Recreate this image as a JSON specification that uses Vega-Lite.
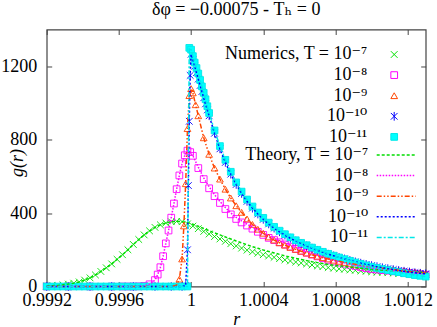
{
"$schema":"https://vega.github.io/schema/vega-lite/v6.json",
"width":379,"height":257,"autosize":"none",
"padding":{"left":46.7,"top":29.5,"right":11.3,"bottom":40.3},
"background":"white",
"title":{"text":"δφ = −0.00075 - Tₕ = 0","font":"Liberation Serif, DejaVu Serif, serif","fontSize":18,"fontWeight":"normal","color":"black","offset":10,"anchor":"middle"},
"config":{"font":"Liberation Serif, DejaVu Serif, serif","view":{"stroke":"#444444","strokeWidth":1.2},
"style":{"guide-label":{"font":"Liberation Serif, DejaVu Serif, serif"},"guide-title":{"font":"Liberation Serif, DejaVu Serif, serif"},"group-title":{"font":"Liberation Serif, DejaVu Serif, serif"}},
"axis":{"labelFont":"Liberation Serif, DejaVu Serif, serif","labelFontSize":18,"labelColor":"black","tickColor":"#444444","tickWidth":1,"titleFont":"Liberation Serif, DejaVu Serif, serif","titleFontSize":18,"titleFontStyle":"italic","titleFontWeight":"normal","titleColor":"black","labelFlush":false,"labelOverlap":false,"grid":false,"domain":false},
"legend":{"labelFont":"Liberation Serif, DejaVu Serif, serif","labelFontSize":18,"labelColor":"black","labelAlign":"right","padding":0,"symbolOffset":0,"rowPadding":2.6}},
"data":{"values":[
{"r":0.9992,"s":"7","t":3,"n":3},{"r":0.99923,"s":"7","t":4,"n":4},{"r":0.99926,"s":"7","t":6,"n":6},{"r":0.99929,"s":"7","t":9,"n":9},{"r":0.99932,"s":"7","t":13,"n":13},{"r":0.99935,"s":"7","t":18,"n":18},{"r":0.99938,"s":"7","t":25,"n":25},{"r":0.99941,"s":"7","t":35,"n":35},{"r":0.99944,"s":"7","t":47,"n":47},{"r":0.99947,"s":"7","t":63,"n":63},{"r":0.9995,"s":"7","t":82,"n":82},{"r":0.99953,"s":"7","t":102,"n":102},{"r":0.99956,"s":"7","t":123,"n":123},{"r":0.99959,"s":"7","t":148,"n":148},{"r":0.99962,"s":"7","t":173,"n":173},{"r":0.99965,"s":"7","t":200,"n":200},{"r":0.99968,"s":"7","t":229,"n":229},{"r":0.99971,"s":"7","t":256,"n":256},{"r":0.99974,"s":"7","t":281,"n":281},{"r":0.99977,"s":"7","t":303,"n":303},{"r":0.9998,"s":"7","t":322,"n":322},{"r":0.99983,"s":"7","t":336,"n":336},{"r":0.99986,"s":"7","t":346,"n":346},{"r":0.99989,"s":"7","t":353,"n":353},{"r":0.99992,"s":"7","t":355,"n":355},{"r":0.99995,"s":"7","t":353,"n":353},{"r":0.99998,"s":"7","t":348,"n":341},{"r":1.00001,"s":"7","t":339,"n":329},{"r":1.00004,"s":"7","t":328,"n":315},{"r":1.00007,"s":"7","t":316,"n":300},{"r":1.0001,"s":"7","t":304,"n":286},{"r":1.00013,"s":"7","t":292,"n":272},{"r":1.00016,"s":"7","t":281,"n":259},{"r":1.00019,"s":"7","t":270,"n":246},{"r":1.00022,"s":"7","t":259,"n":233},{"r":1.00025,"s":"7","t":248,"n":221},{"r":1.00028,"s":"7","t":238,"n":209},{"r":1.00031,"s":"7","t":227,"n":198},{"r":1.00034,"s":"7","t":217,"n":189},{"r":1.00037,"s":"7","t":208,"n":181},{"r":1.0004,"s":"7","t":199,"n":173},{"r":1.00043,"s":"7","t":191,"n":166},{"r":1.00046,"s":"7","t":183,"n":159},{"r":1.00049,"s":"7","t":175,"n":152},{"r":1.00052,"s":"7","t":167,"n":145},{"r":1.00055,"s":"7","t":160,"n":139},{"r":1.00058,"s":"7","t":153,"n":133},{"r":1.00061,"s":"7","t":147,"n":128},{"r":1.00064,"s":"7","t":141,"n":123},{"r":1.00067,"s":"7","t":135,"n":117},{"r":1.0007,"s":"7","t":130,"n":112},{"r":1.00073,"s":"7","t":125,"n":108},{"r":1.00076,"s":"7","t":120,"n":103},{"r":1.00079,"s":"7","t":116,"n":100},{"r":1.00082,"s":"7","t":112,"n":96},{"r":1.00085,"s":"7","t":109,"n":94},{"r":1.00088,"s":"7","t":105,"n":90},{"r":1.00091,"s":"7","t":102,"n":88},{"r":1.00094,"s":"7","t":99,"n":85},{"r":1.00097,"s":"7","t":96,"n":83},{"r":1.001,"s":"7","t":93,"n":80},{"r":1.00103,"s":"7","t":91,"n":78},{"r":1.00106,"s":"7","t":89,"n":77},{"r":1.00109,"s":"7","t":87,"n":75},{"r":1.00112,"s":"7","t":85,"n":73},{"r":1.00115,"s":"7","t":83,"n":71},{"r":1.00118,"s":"7","t":81,"n":70},{"r":1.00121,"s":"7","t":80,"n":69},{"r":1.00124,"s":"7","t":78,"n":67},{"r":1.00127,"s":"7","t":77,"n":66},{"r":1.0013,"s":"7","t":76,"n":65},
{"r":0.9992,"s":"8","t":0,"n":0},{"r":0.99932,"s":"8","t":0,"n":0},{"r":0.99944,"s":"8","t":0,"n":0},{"r":0.99956,"s":"8","t":0,"n":0},{"r":0.99962,"s":"8","t":0,"n":0},{"r":0.99965,"s":"8","t":0,"n":0},{"r":0.99968,"s":"8","t":0,"n":0},{"r":0.99971,"s":"8","t":1,"n":1},{"r":0.99974,"s":"8","t":3,"n":3},{"r":0.99977,"s":"8","t":12,"n":12},{"r":0.9998,"s":"8","t":35,"n":35},{"r":0.999815,"s":"8","t":65,"n":65},{"r":0.99983,"s":"8","t":105,"n":105},{"r":0.999845,"s":"8","t":165,"n":165},{"r":0.99986,"s":"8","t":235,"n":235},{"r":0.999875,"s":"8","t":305,"n":305},{"r":0.99989,"s":"8","t":375,"n":375},{"r":0.999905,"s":"8","t":452,"n":452},{"r":0.99992,"s":"8","t":530,"n":530},{"r":0.999935,"s":"8","t":605,"n":605},{"r":0.99995,"s":"8","t":670,"n":670},{"r":0.999965,"s":"8","t":715,"n":715},{"r":0.99998,"s":"8","t":740,"n":740},{"r":0.999995,"s":"8","t":732,"n":732},{"r":1.00001,"s":"8","t":712,"n":712},{"r":1.00004,"s":"8","t":650,"n":645},{"r":1.00007,"s":"8","t":592,"n":585},{"r":1.0001,"s":"8","t":543,"n":535},{"r":1.00013,"s":"8","t":500,"n":492},{"r":1.00016,"s":"8","t":463,"n":455},{"r":1.00019,"s":"8","t":430,"n":422},{"r":1.00022,"s":"8","t":401,"n":393},{"r":1.00025,"s":"8","t":376,"n":368},{"r":1.00028,"s":"8","t":357,"n":349},{"r":1.00031,"s":"8","t":340,"n":332},{"r":1.00034,"s":"8","t":323,"n":315},{"r":1.00037,"s":"8","t":306,"n":298},{"r":1.0004,"s":"8","t":289,"n":281},{"r":1.00043,"s":"8","t":273,"n":265},{"r":1.00046,"s":"8","t":261,"n":253},{"r":1.00049,"s":"8","t":249,"n":241},{"r":1.00052,"s":"8","t":237,"n":229},{"r":1.00055,"s":"8","t":225,"n":217},{"r":1.00058,"s":"8","t":213,"n":205},{"r":1.00061,"s":"8","t":201,"n":194},{"r":1.00064,"s":"8","t":190,"n":184},{"r":1.00067,"s":"8","t":180,"n":174},{"r":1.0007,"s":"8","t":170,"n":164},{"r":1.00073,"s":"8","t":160,"n":154},{"r":1.00076,"s":"8","t":151,"n":145},{"r":1.00079,"s":"8","t":142,"n":136},{"r":1.00082,"s":"8","t":135,"n":130},{"r":1.00085,"s":"8","t":129,"n":124},{"r":1.00088,"s":"8","t":123,"n":118},{"r":1.00091,"s":"8","t":117,"n":112},{"r":1.00094,"s":"8","t":111,"n":106},{"r":1.00097,"s":"8","t":105,"n":100},{"r":1.001,"s":"8","t":100,"n":95},{"r":1.00103,"s":"8","t":96,"n":92},{"r":1.00106,"s":"8","t":93,"n":89},{"r":1.00109,"s":"8","t":90,"n":86},{"r":1.00112,"s":"8","t":86,"n":83},{"r":1.00115,"s":"8","t":83,"n":80},{"r":1.00118,"s":"8","t":80,"n":77},{"r":1.00121,"s":"8","t":76,"n":73},{"r":1.00124,"s":"8","t":73,"n":70},{"r":1.00127,"s":"8","t":70,"n":67},{"r":1.0013,"s":"8","t":67,"n":64},
{"r":0.9992,"s":"9","t":0,"n":0},{"r":0.99932,"s":"9","t":0,"n":0},{"r":0.99944,"s":"9","t":0,"n":0},{"r":0.99956,"s":"9","t":0,"n":0},{"r":0.99968,"s":"9","t":0,"n":0},{"r":0.9998,"s":"9","t":0,"n":0},{"r":0.99986,"s":"9","t":0,"n":0},{"r":0.99989,"s":"9","t":0,"n":0},{"r":0.99992,"s":"9","t":8,"n":8},{"r":0.999935,"s":"9","t":40,"n":40},{"r":0.99995,"s":"9","t":150,"n":150},{"r":0.99996,"s":"9","t":330,"n":330},{"r":0.99997,"s":"9","t":560,"n":560},{"r":0.99998,"s":"9","t":860,"n":860},{"r":0.99999,"s":"9","t":1040,"n":1040},{"r":1.0,"s":"9","t":1078,"n":1078},{"r":1.00001,"s":"9","t":1055,"n":1055},{"r":1.000025,"s":"9","t":990,"n":990},{"r":1.00004,"s":"9","t":930,"n":930},{"r":1.00007,"s":"9","t":810,"n":810},{"r":1.0001,"s":"9","t":720,"n":720},{"r":1.00013,"s":"9","t":645,"n":645},{"r":1.00016,"s":"9","t":585,"n":585},{"r":1.00019,"s":"9","t":530,"n":530},{"r":1.00022,"s":"9","t":482,"n":482},{"r":1.00025,"s":"9","t":440,"n":440},{"r":1.00028,"s":"9","t":404,"n":404},{"r":1.00031,"s":"9","t":368,"n":368},{"r":1.00034,"s":"9","t":338,"n":338},{"r":1.00037,"s":"9","t":312,"n":312},{"r":1.0004,"s":"9","t":290,"n":290},{"r":1.00043,"s":"9","t":270,"n":270},{"r":1.00046,"s":"9","t":253,"n":253},{"r":1.00049,"s":"9","t":238,"n":238},{"r":1.00052,"s":"9","t":225,"n":225},{"r":1.00055,"s":"9","t":213,"n":213},{"r":1.00058,"s":"9","t":202,"n":202},{"r":1.00061,"s":"9","t":192,"n":192},{"r":1.00064,"s":"9","t":182,"n":182},{"r":1.00067,"s":"9","t":173,"n":173},{"r":1.0007,"s":"9","t":165,"n":165},{"r":1.00073,"s":"9","t":157,"n":157},{"r":1.00076,"s":"9","t":150,"n":150},{"r":1.00079,"s":"9","t":143,"n":143},{"r":1.00082,"s":"9","t":137,"n":137},{"r":1.00085,"s":"9","t":131,"n":131},{"r":1.00088,"s":"9","t":126,"n":126},{"r":1.00091,"s":"9","t":121,"n":121},{"r":1.00094,"s":"9","t":116,"n":116},{"r":1.00097,"s":"9","t":112,"n":112},{"r":1.001,"s":"9","t":108,"n":108},{"r":1.00103,"s":"9","t":104,"n":104},{"r":1.00106,"s":"9","t":100,"n":100},{"r":1.00109,"s":"9","t":96,"n":96},{"r":1.00112,"s":"9","t":93,"n":93},{"r":1.00115,"s":"9","t":89,"n":89},{"r":1.00118,"s":"9","t":86,"n":86},{"r":1.00121,"s":"9","t":82,"n":82},{"r":1.00124,"s":"9","t":79,"n":79},{"r":1.00127,"s":"9","t":76,"n":76},{"r":1.0013,"s":"9","t":73,"n":73},
{"r":0.9992,"s":"10","t":0,"n":0},{"r":0.99932,"s":"10","t":0,"n":0},{"r":0.99944,"s":"10","t":0,"n":0},{"r":0.99956,"s":"10","t":0,"n":0},{"r":0.99968,"s":"10","t":0,"n":0},{"r":0.9998,"s":"10","t":0,"n":0},{"r":0.99989,"s":"10","t":0,"n":0},{"r":0.99995,"s":"10","t":0,"n":0},{"r":0.99997,"s":"10","t":5,"n":5},{"r":0.99998,"s":"10","t":200,"n":200},{"r":0.999985,"s":"10","t":550,"n":550},{"r":0.99999,"s":"10","t":900,"n":900},{"r":0.999995,"s":"10","t":1150,"n":1150},{"r":1.0,"s":"10","t":1265,"n":1265},{"r":1.00001,"s":"10","t":1235,"n":1235},{"r":1.00002,"s":"10","t":1200,"n":1200},{"r":1.00003,"s":"10","t":1165,"n":1165},{"r":1.00004,"s":"10","t":1130,"n":1130},{"r":1.00005,"s":"10","t":1095,"n":1095},{"r":1.00006,"s":"10","t":1062,"n":1062},{"r":1.00007,"s":"10","t":1028,"n":1028},{"r":1.00008,"s":"10","t":995,"n":995},{"r":1.00009,"s":"10","t":962,"n":962},{"r":1.0001,"s":"10","t":930,"n":930},{"r":1.00013,"s":"10","t":835,"n":835},{"r":1.00016,"s":"10","t":750,"n":750},{"r":1.00019,"s":"10","t":676,"n":676},{"r":1.00022,"s":"10","t":612,"n":612},{"r":1.00025,"s":"10","t":556,"n":556},{"r":1.00028,"s":"10","t":507,"n":507},{"r":1.00031,"s":"10","t":464,"n":464},{"r":1.00034,"s":"10","t":427,"n":427},{"r":1.00037,"s":"10","t":395,"n":395},{"r":1.0004,"s":"10","t":366,"n":366},{"r":1.00043,"s":"10","t":341,"n":341},{"r":1.00046,"s":"10","t":318,"n":318},{"r":1.00049,"s":"10","t":298,"n":298},{"r":1.00052,"s":"10","t":280,"n":280},{"r":1.00055,"s":"10","t":263,"n":263},{"r":1.00058,"s":"10","t":248,"n":248},{"r":1.00061,"s":"10","t":234,"n":234},{"r":1.00064,"s":"10","t":221,"n":221},{"r":1.00067,"s":"10","t":209,"n":209},{"r":1.0007,"s":"10","t":197,"n":197},{"r":1.00073,"s":"10","t":186,"n":186},{"r":1.00076,"s":"10","t":176,"n":176},{"r":1.00079,"s":"10","t":167,"n":167},{"r":1.00082,"s":"10","t":158,"n":158},{"r":1.00085,"s":"10","t":150,"n":150},{"r":1.00088,"s":"10","t":142,"n":142},{"r":1.00091,"s":"10","t":134,"n":134},{"r":1.00094,"s":"10","t":127,"n":127},{"r":1.00097,"s":"10","t":120,"n":120},{"r":1.001,"s":"10","t":114,"n":114},{"r":1.00103,"s":"10","t":108,"n":108},{"r":1.00106,"s":"10","t":102,"n":102},{"r":1.00109,"s":"10","t":97,"n":97},{"r":1.00112,"s":"10","t":92,"n":92},{"r":1.00115,"s":"10","t":87,"n":87},{"r":1.00118,"s":"10","t":83,"n":83},{"r":1.00121,"s":"10","t":79,"n":79},{"r":1.00124,"s":"10","t":75,"n":75},{"r":1.00127,"s":"10","t":72,"n":72},{"r":1.0013,"s":"10","t":69,"n":69},
{"r":0.9992,"s":"11","t":0,"n":0},{"r":0.99923,"s":"11","t":0,"n":0},{"r":0.99926,"s":"11","t":0,"n":0},{"r":0.99929,"s":"11","t":0,"n":0},{"r":0.99932,"s":"11","t":0,"n":0},{"r":0.99935,"s":"11","t":0,"n":0},{"r":0.99938,"s":"11","t":0,"n":0},{"r":0.99941,"s":"11","t":0,"n":0},{"r":0.99944,"s":"11","t":0,"n":0},{"r":0.99947,"s":"11","t":0,"n":0},{"r":0.9995,"s":"11","t":0,"n":0},{"r":0.99953,"s":"11","t":0,"n":0},{"r":0.99956,"s":"11","t":0,"n":0},{"r":0.99959,"s":"11","t":0,"n":0},{"r":0.99962,"s":"11","t":0,"n":0},{"r":0.99965,"s":"11","t":0,"n":0},{"r":0.99968,"s":"11","t":0,"n":0},{"r":0.99971,"s":"11","t":0,"n":0},{"r":0.99974,"s":"11","t":0,"n":0},{"r":0.99977,"s":"11","t":0,"n":0},{"r":0.9998,"s":"11","t":0,"n":0},{"r":0.99983,"s":"11","t":0,"n":0},{"r":0.99986,"s":"11","t":0,"n":0},{"r":0.99989,"s":"11","t":0,"n":0},{"r":0.99992,"s":"11","t":0,"n":0},{"r":0.99995,"s":"11","t":0,"n":0},{"r":0.99998,"s":"11","t":0,"n":0},{"r":0.99999,"s":"11","t":1300,"n":1300},{"r":1.0,"s":"11","t":1290,"n":1290},{"r":1.00001,"s":"11","t":1255,"n":1255},{"r":1.00002,"s":"11","t":1220,"n":1220},{"r":1.00003,"s":"11","t":1190,"n":1190},{"r":1.00004,"s":"11","t":1160,"n":1160},{"r":1.00005,"s":"11","t":1125,"n":1125},{"r":1.00006,"s":"11","t":1090,"n":1090},{"r":1.00007,"s":"11","t":1055,"n":1055},{"r":1.00008,"s":"11","t":1020,"n":1020},{"r":1.00009,"s":"11","t":982,"n":982},{"r":1.0001,"s":"11","t":945,"n":945},{"r":1.00013,"s":"11","t":850,"n":850},{"r":1.00016,"s":"11","t":765,"n":765},{"r":1.00019,"s":"11","t":690,"n":690},{"r":1.00022,"s":"11","t":625,"n":625},{"r":1.00025,"s":"11","t":567,"n":567},{"r":1.00028,"s":"11","t":517,"n":517},{"r":1.00031,"s":"11","t":474,"n":474},{"r":1.00034,"s":"11","t":436,"n":436},{"r":1.00037,"s":"11","t":403,"n":403},{"r":1.0004,"s":"11","t":374,"n":374},{"r":1.00043,"s":"11","t":348,"n":348},{"r":1.00046,"s":"11","t":325,"n":325},{"r":1.00049,"s":"11","t":304,"n":304},{"r":1.00052,"s":"11","t":285,"n":285},{"r":1.00055,"s":"11","t":268,"n":268},{"r":1.00058,"s":"11","t":252,"n":252},{"r":1.00061,"s":"11","t":238,"n":238},{"r":1.00064,"s":"11","t":225,"n":225},{"r":1.00067,"s":"11","t":212,"n":212},{"r":1.0007,"s":"11","t":200,"n":200},{"r":1.00073,"s":"11","t":189,"n":189},{"r":1.00076,"s":"11","t":178,"n":178},{"r":1.00079,"s":"11","t":168,"n":168},{"r":1.00082,"s":"11","t":158,"n":158},{"r":1.00085,"s":"11","t":149,"n":149},{"r":1.00088,"s":"11","t":140,"n":140},{"r":1.00091,"s":"11","t":131,"n":131},{"r":1.00094,"s":"11","t":123,"n":123},{"r":1.00097,"s":"11","t":115,"n":115},{"r":1.001,"s":"11","t":108,"n":108},{"r":1.00103,"s":"11","t":101,"n":101},{"r":1.00106,"s":"11","t":95,"n":95},{"r":1.00109,"s":"11","t":89,"n":89},{"r":1.00112,"s":"11","t":83,"n":83},{"r":1.00115,"s":"11","t":78,"n":78},{"r":1.00118,"s":"11","t":72,"n":72},{"r":1.00121,"s":"11","t":67,"n":67},{"r":1.00124,"s":"11","t":62,"n":62},{"r":1.00127,"s":"11","t":58,"n":58},{"r":1.0013,"s":"11","t":54,"n":54}
]},
"layer":[
{"mark":{"type":"point","size":45,"strokeWidth":0.9,"opacity":1},
"encoding":{
"x":{"field":"r","type":"quantitative","scale":{"domain":[0.9992,1.0013],"nice":false,"zero":false},"axis":{"orient":"top","labels":false,"title":null,"values":[0.9992,0.9996,1,1.0004,1.0008,1.0012],"tickSize":-5}},
"y":{"field":"n","type":"quantitative","scale":{"domain":[0,1400],"nice":false},"axis":{"orient":"right","labels":false,"title":null,"values":[0,400,800,1200],"tickSize":-5}},
"stroke":{"field":"s","type":"nominal","scale":{"domain":["7","8","9","10","11"],"range":["#00e000","#ff00ff","#ff4500","#0000ff","#00e8e8"]},
"legend":{"orient":"none","legendX":338.5,"legendY":16,"title":null,"labelOffset":-36,"symbolSize":45,"symbolStrokeWidth":1,"labelExpr":"datum.value == '7' ? 'Numerics, T = 10⁻⁷' : datum.value == '8' ? '10⁻⁸' : datum.value == '9' ? '10⁻⁹' : datum.value == '10' ? '10⁻¹⁰' : '10⁻¹¹'"}},
"fill":{"field":"s","type":"nominal","scale":{"domain":["7","8","9","10","11"],"range":["transparent","transparent","transparent","transparent","#00ffff"]},
"legend":{"orient":"none","legendX":338.5,"legendY":16,"title":null,"labelOffset":-36,"symbolSize":45,"symbolStrokeWidth":1,"labelExpr":"datum.value == '7' ? 'Numerics, T = 10⁻⁷' : datum.value == '8' ? '10⁻⁸' : datum.value == '9' ? '10⁻⁹' : datum.value == '10' ? '10⁻¹⁰' : '10⁻¹¹'"}},
"shape":{"field":"s","type":"nominal","scale":{"domain":["7","8","9","10","11"],"range":["M-1,-1L1,1M-1,1L1,-1","square","triangle-up","M-1,-1L1,1M-1,1L1,-1M0,-1.3L0,1.3","square"]},
"legend":{"orient":"none","legendX":338.5,"legendY":16,"title":null,"labelOffset":-36,"symbolSize":45,"symbolStrokeWidth":1,"labelExpr":"datum.value == '7' ? 'Numerics, T = 10⁻⁷' : datum.value == '8' ? '10⁻⁸' : datum.value == '9' ? '10⁻⁹' : datum.value == '10' ? '10⁻¹⁰' : '10⁻¹¹'"}}
}},
{"mark":{"type":"line","strokeWidth":1.5},
"encoding":{
"x":{"field":"r","type":"quantitative","scale":{"domain":[0.9992,1.0013],"nice":false,"zero":false},"axis":{"orient":"bottom","values":[0.9992,0.9996,1,1.0004,1.0008,1.0012],"format":".5~r","tickSize":-5,"labelPadding":10,"labelFont":"Liberation Serif, DejaVu Serif, serif","titleFont":"Liberation Serif, DejaVu Serif, serif","title":"r","titlePadding":1}},
"y":{"field":"t","type":"quantitative","scale":{"domain":[0,1400],"nice":false},"axis":{"orient":"left","values":[0,400,800,1200],"format":"d","tickSize":-5,"labelPadding":15,"labelFont":"Liberation Serif, DejaVu Serif, serif","titleFont":"Liberation Serif, DejaVu Serif, serif","title":"g(r)","titleX":-29,"titleY":133,"titleAngle":-90,"titleAlign":"center","titleBaseline":"middle"}},
"stroke":{"field":"s","type":"nominal","scale":{"domain":["7","8","9","10","11"],"range":["#00dd00","#ff00ff","#ff4500","#0000ff","#00e8e8"]},
"legend":{"orient":"none","legendX":340.5,"legendY":116.5,"title":null,"labelOffset":-37,"symbolType":"M-3,0L3,0","symbolSize":169,"symbolStrokeWidth":1.5,"labelExpr":"datum.value == '7' ? 'Theory, T = 10⁻⁷' : datum.value == '8' ? '10⁻⁸' : datum.value == '9' ? '10⁻⁹' : datum.value == '10' ? '10⁻¹⁰' : '10⁻¹¹'"}},
"strokeDash":{"field":"s","type":"nominal","scale":{"domain":["7","8","9","10","11"],"range":[[3,2],[1.5,1.5],[5,2,1.5,2,1.5,2],[2,2],[5,2,2,2]]},
"legend":{"orient":"none","legendX":340.5,"legendY":116.5,"title":null,"labelOffset":-37,"symbolType":"M-3,0L3,0","symbolSize":169,"symbolStrokeWidth":1.5,"labelExpr":"datum.value == '7' ? 'Theory, T = 10⁻⁷' : datum.value == '8' ? '10⁻⁸' : datum.value == '9' ? '10⁻⁹' : datum.value == '10' ? '10⁻¹⁰' : '10⁻¹¹'"}}
}}
],
"resolve":{"scale":{"stroke":"independent","fill":"independent","shape":"independent","strokeDash":"independent"},"axis":{"x":"independent","y":"independent"},"legend":{"stroke":"independent","fill":"independent","shape":"independent","strokeDash":"independent"}}
}
